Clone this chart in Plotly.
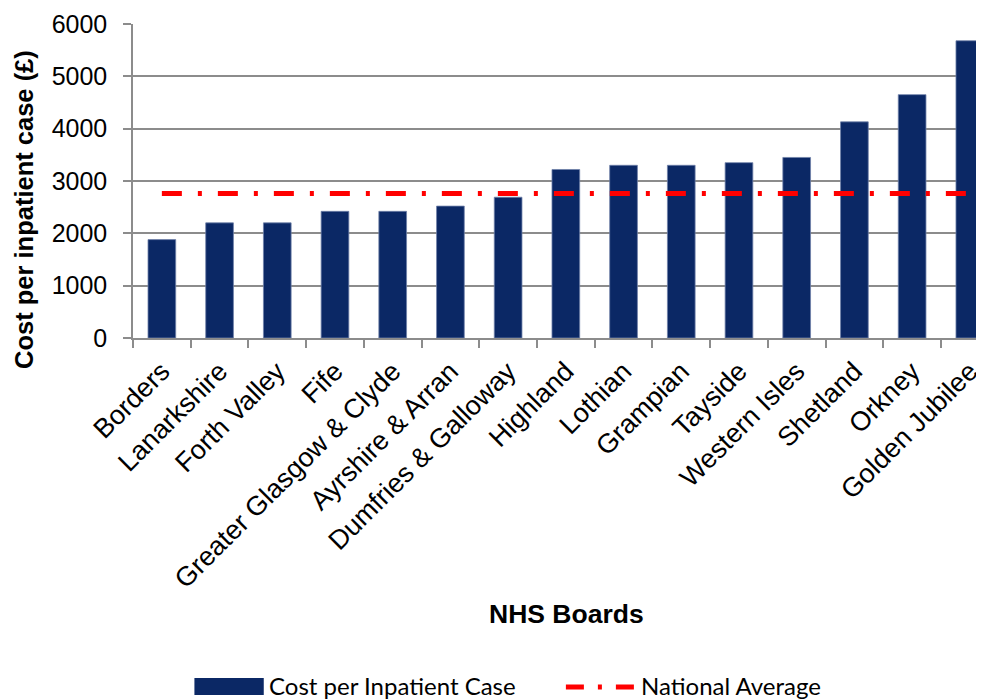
import plotly.graph_objects as go

boards = ["Borders", "Lanarkshire", "Forth Valley", "Fife", "Greater Glasgow & Clyde",
          "Ayrshire & Arran", "Dumfries & Galloway", "Highland", "Lothian", "Grampian",
          "Tayside", "Western Isles", "Shetland", "Orkney", "Golden Jubilee"]
cost = [1880, 2200, 2200, 2420, 2420, 2520, 2690, 3220, 3300, 3300, 3350, 3450, 4130, 4650, 5680]
national_avg = [2760] * len(boards)
y_ticks = [0, 1000, 2000, 3000, 4000, 5000, 6000]

# page has an 8px body margin; figure is sized so it fills the 984x699 window
OFF = 8
W, H = 984 - OFF, 699 - OFF
L, R, T, B = 133 - OFF, 0, 24 - OFF, 361
plot_w = W - L - R
plot_h = H - T - B
cat_px = 58.26
x_end = -0.5 + plot_w / cat_px

def px(xp):
    return (xp - OFF - L) / plot_w

def py(yp):
    return (H - B - (yp - OFF)) / plot_h

NAVY = "#0B2865"
RED = "#FF0000"
GRID = "#8C8C8C"
SANS = "Liberation Sans, Arial, sans-serif"

fig = go.Figure()
fig.add_trace(go.Bar(x=boards, y=cost, name="Cost per Inpatient Case",
                     marker=dict(color=NAVY, line=dict(color="#6F80A8", width=0.8)),
                     showlegend=False))
fig.add_trace(go.Scatter(x=boards, y=national_avg, name="National Average", mode="lines",
                         line=dict(color=RED, width=5, dash="20px,16px,4px,16px"),
                         showlegend=False))

fig.update_layout(
    width=W, height=H,
    margin=dict(l=L, r=R, t=T, b=B, pad=0),
    paper_bgcolor="white", plot_bgcolor="white",
    bargap=0.52,
    font=dict(family=SANS, color="black"),
    xaxis=dict(type="category", range=[-0.5, x_end], tickangle=-45,
               tickfont=dict(size=27, color="black"),
               showgrid=False, showline=True, linecolor=GRID, linewidth=1.5,
               ticks="outside", ticklen=8, tickcolor=GRID, tickwidth=1.5,
               tickson="boundaries", ticklabelstandoff=5),
    yaxis=dict(range=[0, 6000], tickvals=y_ticks,
               tickfont=dict(size=25, color="black"),
               showgrid=True, gridcolor=GRID, gridwidth=1.5,
               showline=True, linecolor=GRID, linewidth=1.5,
               ticks="outside", ticklen=8, tickcolor=GRID, tickwidth=1.5,
               ticklabelstandoff=11, zeroline=False),
)

# axis titles
fig.add_annotation(text="<b>Cost per inpatient case (£)</b>", xref="paper", yref="paper",
                   x=px(23), y=py(210), textangle=-90, showarrow=False,
                   font=dict(size=25.5, family=SANS, color="black"),
                   xanchor="center", yanchor="middle")
fig.add_annotation(text="<b>NHS Boards</b>", xref="paper", yref="paper",
                   x=px(571), y=py(614), showarrow=False,
                   font=dict(size=26.5, family=SANS, color="black"),
                   xanchor="center", yanchor="middle")

# custom legend
leg_y = 685
fig.add_shape(type="rect", xref="paper", yref="paper",
              x0=px(195), x1=px(265), y0=py(678), y1=py(695),
              fillcolor=NAVY, line=dict(width=0))
fig.add_annotation(text="Cost per Inpatient Case", xref="paper", yref="paper",
                   x=px(268), y=py(leg_y), showarrow=False, xanchor="left", yanchor="middle",
                   font=dict(size=24, family="Lato, sans-serif", color="black"))
fig.add_shape(type="line", xref="paper", yref="paper",
              x0=px(570), x1=px(641), y0=py(687), y1=py(687),
              line=dict(color=RED, width=5, dash="18px,14px,4px,14px"))
fig.add_annotation(text="National Average", xref="paper", yref="paper",
                   x=px(644), y=py(leg_y), showarrow=False, xanchor="left", yanchor="middle",
                   font=dict(size=24, family="Lato, sans-serif", color="black"))

fig.write_html("out.html")
